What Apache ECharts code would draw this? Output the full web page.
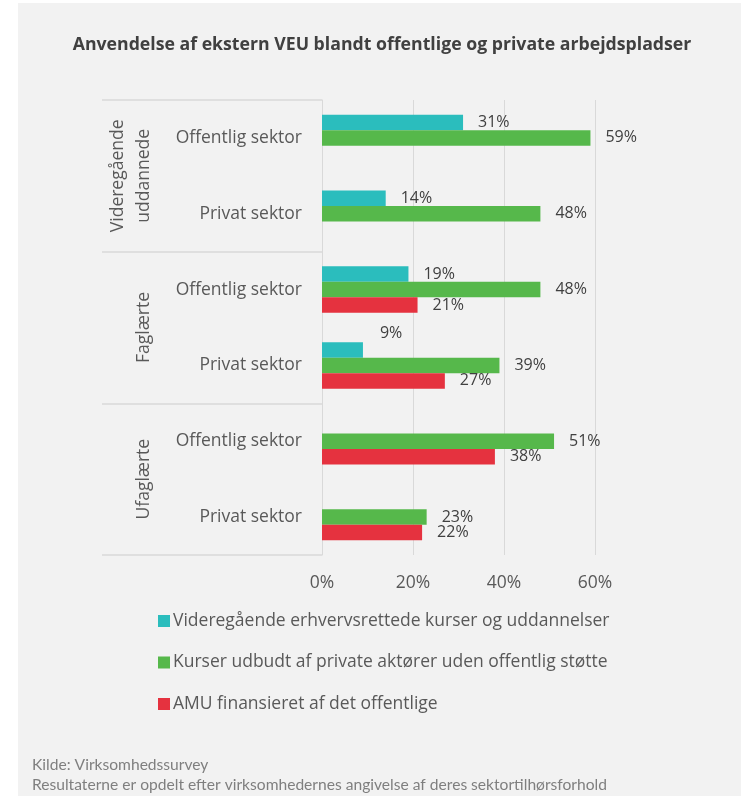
<!DOCTYPE html>
<html>
<head>
<meta charset="utf-8">
<script src="https://cdn.jsdelivr.net/npm/echarts@6/dist/echarts.min.js"></script>
<style>
  html, body { margin: 0; padding: 0; background: #ffffff; }
  #chart { width: 746px; height: 796px; }
</style>
</head>
<body>
<div id="chart"></div>
<script>
// Groups (outer level) and sector rows (inner level), top to bottom
const groups = ['Videregående\nuddannede', 'Faglærte', 'Ufaglærte'];
const sectors = ['Offentlig sektor', 'Privat sektor', 'Offentlig sektor', 'Privat sektor', 'Offentlig sektor', 'Privat sektor'];

// Series names
const seriesNames = [
  'Videregående erhvervsrettede kurser og uddannelser',
  'Kurser udbudt af private aktører uden offentlig støtte',
  'AMU finansieret af det offentlige'
];

// Shares in percent, one value per sector row (null = not offered)
const videregaaende = [31, 14, 19, 9, null, null];
const privateKurser = [59, 48, 48, 39, 51, 23];
const amu = [null, null, 21, 27, 38, 22];

// Value axis ticks (percent)
const xTicks = [0, 20, 40, 60];

const seriesColors = ['#2bbdbd', '#56b84b', '#e5323f'];
const seriesValues = [videregaaende, privateKurser, amu];

// Hand-placed label: the small 9% value sits above its bar
const labelShifts = { '0-3': [2, -16] };

const chart = echarts.init(document.getElementById('chart'), null, { renderer: 'canvas' });

const series = seriesValues.map(function (vals, si) {
  return {
    name: seriesNames[si],
    type: 'bar',
    yAxisIndex: 0,
    barWidth: 15.5,
    barGap: '0%',
    itemStyle: { color: seriesColors[si] },
    label: {
      show: true,
      position: 'right',
      distance: 15,
      color: '#404040',
      fontFamily: 'Open Sans',
      fontSize: 16,
      formatter: function (p) { return p.value == null ? '' : p.value + '%'; }
    },
    data: vals.map(function (v, i) {
      const shift = labelShifts[si + '-' + i];
      if (v == null) return null;
      if (shift) return { value: v, label: { offset: shift } };
      return v;
    })
  };
});

const option = {
  backgroundColor: '#ffffff',
  animation: false,
  graphic: [{
    type: 'rect',
    z: -10,
    silent: true,
    shape: { x: 18, y: 3, width: 723, height: 800 },
    style: { fill: '#f2f2f2' }
  }],
  title: [{
    text: 'Anvendelse af ekstern VEU blandt offentlige og private arbejdspladser',
    left: 377,
    top: 31,
    textAlign: 'center',
    textStyle: { fontFamily: 'Open Sans', fontWeight: 'bold', fontSize: 17.7, color: '#404040' }
  }, {
    text: 'Kilde: Virksomhedssurvey\nResultaterne er opdelt efter virksomhedernes angivelse af deres sektortilhørsforhold',
    left: 32,
    top: 755,
    padding: 0,
    textStyle: { fontFamily: 'Lato', fontWeight: 'normal', fontSize: 15.6, lineHeight: 20, color: '#7f7f7f' }
  }],
  legend: {
    orient: 'vertical',
    left: 158,
    top: 612,
    padding: 0,
    itemWidth: 12,
    itemHeight: 12,
    itemGap: 23.5,
    icon: 'rect',
    textStyle: { fontFamily: 'Open Sans', fontSize: 17.5, color: '#595959', padding: [0, 0, 0, -2] },
    data: seriesNames
  },
  grid: {
    left: 322,
    right: 151,
    top: 100,
    bottom: 241,
    containLabel: false,
    outerBoundsMode: 'none'
  },
  xAxis: {
    type: 'value',
    min: xTicks[0],
    max: xTicks[xTicks.length - 1],
    interval: xTicks[1] - xTicks[0],
    axisLine: { show: false },
    axisTick: { show: false },
    splitLine: { show: true, lineStyle: { color: '#d9d9d9', width: 1 } },
    axisLabel: {
      margin: 19,
      color: '#595959',
      fontFamily: 'Open Sans',
      fontSize: 17.5,
      formatter: '{value}%'
    }
  },
  yAxis: [{
    type: 'category',
    data: sectors,
    inverse: true,
    axisLine: { show: true, lineStyle: { color: '#d9d9d9' } },
    axisTick: { show: false },
    axisLabel: {
      margin: 20,
      color: '#595959',
      fontFamily: 'Open Sans',
      fontSize: 17.5
    }
  }, {
    type: 'category',
    data: groups,
    inverse: true,
    position: 'left',
    axisLine: { show: false },
    axisTick: { show: true, length: 220, lineStyle: { color: '#d9d9d9', width: 1.5 } },
    axisLabel: {
      rotate: 90,
      margin: 165,
      color: '#595959',
      fontFamily: 'Open Sans',
      fontSize: 17.5,
      lineHeight: 26
    }
  }],
  series: series
};

chart.setOption(option);
</script>
</body>
</html>
